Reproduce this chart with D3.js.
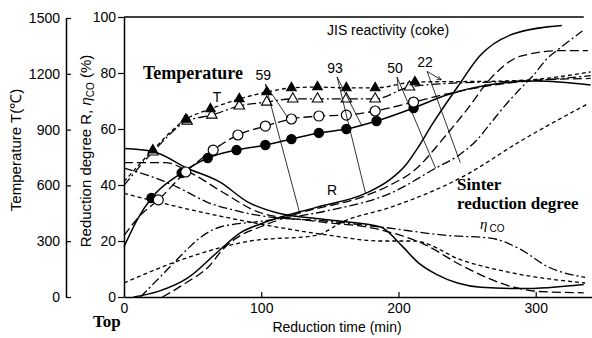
<!DOCTYPE html>
<html>
<head>
<meta charset="utf-8">
<script src="https://cdn.jsdelivr.net/npm/d3@7"></script>
<style>
  html, body { margin: 0; padding: 0; background: #fff; }
  svg { display: block; }
  .sans { font-family: "Liberation Sans", Arial, sans-serif; }
  .serif { font-family: "Liberation Serif", "Times New Roman", serif; }
</style>
</head>
<body>
<svg id="chart" width="592" height="338"></svg>
<script>
// ---- Data: reduction time (min) against temperature (°C), reduction degree R (%) and CO utilisation (%) ----
// Series are keyed by JIS coke reactivity: 93, 59, 50, 22.

// Temperature T: points before the first marker, marked points, points after the last marker
const temp93Head = [[0, 270], [10, 420]];
const temp93Marks = [[20, 532], [42, 667], [61, 747], [82, 790], [103, 817], [122, 849], [142, 882], [162, 903], [184, 946], [211, 1016]];
const temp93Tail = [[235, 1086], [265, 1140], [300, 1161], [340, 1140]];

const temp59Head = [[0, 330], [12, 440]];
const temp59Marks = [[25, 522], [45, 672], [65, 790], [83, 871], [103, 919], [122, 957], [142, 973], [162, 978], [183, 1000], [211, 1048]];
const temp59Tail = [[240, 1100], [270, 1140], [300, 1165], [340, 1175]];

const temp50Head = [[0, 600]];
const temp50Marks = [[21, 780], [46, 946], [64, 978], [84, 1027], [104, 1048], [123, 1065], [141, 1065], [162, 1065], [183, 1065], [208, 1129]];
const temp50Tail = [[240, 1150], [270, 1156], [300, 1165], [340, 1190]];

const temp22Head = [[0, 620]];
const temp22Marks = [[21, 790], [45, 955], [63, 1011], [84, 1065], [104, 1102], [122, 1124], [141, 1129], [162, 1124], [183, 1124], [212, 1156]];
const temp22Tail = [[240, 1158], [270, 1160], [300, 1170], [340, 1210]];

// Sinter reduction degree R (%)
const red93 = [[7, 0], [25, 2], [47, 7], [68, 16], [85, 23], [99, 26], [140, 32], [176, 37], [194, 42], [205, 47], [215, 54], [225, 62], [243, 75], [259, 86], [284, 94], [319, 97]];
const red59 = [[28, 0], [45, 5], [62, 11], [72, 17], [85, 22], [99, 25], [128, 30], [175, 36], [194, 40], [211, 45], [235, 58], [250, 67], [267, 78], [289, 86], [318, 88], [338, 88]];
const red50 = [[12, 0], [30, 9], [46, 17], [55, 21], [70, 25], [99, 27], [150, 31], [194, 37], [227, 46], [245, 51], [257, 56], [267, 62], [277, 68], [288, 74], [298, 79], [308, 85], [318, 89], [334, 95]];
const red22 = [[0, 5], [46, 14], [92, 20], [140, 22], [160, 27], [194, 32], [247, 43], [290, 56], [338, 69]];

// CO utilisation eta_CO (%)
const eta93 = [[0, 53], [21, 52], [46, 46], [70, 41], [90, 34], [112, 30], [140, 28], [160, 27], [187, 25], [203, 18], [215, 12], [228, 8], [243, 5], [260, 3.5], [290, 3], [335, 4.5]];
const eta59 = [[0, 48], [30, 48], [50, 44], [70, 38], [100, 30], [140, 27], [187, 24], [218, 19], [247, 11], [284, 3.5], [301, 2], [335, 1.5]];
const eta50 = [[0, 46], [20, 43], [40, 39], [60, 34], [80, 31], [100, 29], [150, 27], [187, 25], [235, 22], [267, 21], [289, 17], [308, 11], [336, 7]];
const eta22 = [[0, 37], [50, 31], [100, 26], [150, 22], [187, 20], [211, 20], [247, 13], [284, 8.5], [336, 5]];

// Axis ticks
const timeTicks = [0, 100, 200, 300];
const reductionTicks = [0, 20, 40, 60, 80, 100];
const temperatureTicks = [0, 300, 600, 900, 1200, 1500];

// Reactivity labels: label anchor [time, R%], pointer to temperature curve [time, °C], pointer to R curve [time, R%]
const reactivityNames = ["59", "93", "50", "22"];
const labelAnchors = [[101.5, 77.5], [153.8, 80], [197.5, 80], [219.4, 82]];
const tempPointerEnds = [[119.5, 962], [173, 925], [200, 1108], [231, 1168]];
const redPointerEnds = [[128, 30], [176, 37], [227, 46], [245, 48]];

// ---- Scales ----
const x = d3.scaleLinear().domain([0, 341]).range([124, 592]);
const yR = d3.scaleLinear().domain([0, 100]).range([297, 17]);
const yT = d3.scaleLinear().domain([0, 1500]).range([297, 18]);

const svg = d3.select("#chart");
const fmt = d3.format("d");

// ---- Axes ----
const xAxis = d3.axisBottom(x).tickValues(timeTicks).tickFormat(fmt).tickSizeInner(-5).tickSizeOuter(0).tickPadding(6);
const gx = svg.append("g").attr("transform", "translate(0,297)").call(xAxis);

const rAxis = d3.axisLeft(yR).tickValues(reductionTicks).tickFormat(fmt).tickSizeInner(6).tickSizeOuter(0).tickPadding(2);
const gr = svg.append("g").attr("transform", "translate(124,0)").call(rAxis);

const tAxis = d3.axisLeft(yT).tickValues(temperatureTicks).tickFormat(fmt).tickSizeInner(-5).tickSizeOuter(0).tickPadding(6);
const gt = svg.append("g").attr("transform", "translate(66,0)").call(tAxis);

[gx, gr, gt].forEach(g => {
  g.selectAll("path.domain").attr("stroke", "#000").attr("stroke-width", 1.5);
  g.selectAll(".tick line").attr("stroke", "#000").attr("stroke-width", 1.2);
  g.selectAll(".tick text").attr("class", "sans").attr("font-size", 14).attr("fill", "#000");
});

// top frame line of the plot area
svg.append("line")
  .attr("x1", x(0)).attr("x2", x(335))
  .attr("y1", yR(100)).attr("y2", yR(100))
  .attr("stroke", "#000").attr("stroke-width", 1.5);

// ---- Curves ----
const styles = {
  "93": { dash: null, width: 1.5 },
  "59": { dash: "9,4", width: 1.3 },
  "50": { dash: "9,3,2,3", width: 1.3 },
  "22": { dash: "4,3", width: 1.3 }
};

const lineT = d3.line().x(d => x(d[0])).y(d => yT(d[1])).curve(d3.curveMonotoneX);
const lineR = d3.line().x(d => x(d[0])).y(d => yR(d[1])).curve(d3.curveMonotoneX);

const tempSeries = [
  { key: "93", pts: temp93Head.concat(temp93Marks, temp93Tail), marks: temp93Marks, marker: "circle", filled: true },
  { key: "59", pts: temp59Head.concat(temp59Marks, temp59Tail), marks: temp59Marks, marker: "circle", filled: false },
  { key: "50", pts: temp50Head.concat(temp50Marks, temp50Tail), marks: temp50Marks, marker: "triangle", filled: false },
  { key: "22", pts: temp22Head.concat(temp22Marks, temp22Tail), marks: temp22Marks, marker: "triangle", filled: true }
];
const redSeries = [["93", red93], ["59", red59], ["50", red50], ["22", red22]];
const etaSeries = [["93", eta93], ["59", eta59], ["50", eta50], ["22", eta22]];

const curves = svg.append("g").attr("fill", "none").attr("stroke", "#000");

function drawCurve(gen, pts, key) {
  const s = styles[key];
  curves.append("path")
    .attr("d", gen(pts))
    .attr("stroke-width", s.width)
    .attr("stroke-dasharray", s.dash);
}

redSeries.forEach(([k, pts]) => drawCurve(lineR, pts, k));
etaSeries.forEach(([k, pts]) => drawCurve(lineR, pts, k));
tempSeries.forEach(s => drawCurve(lineT, s.pts, s.key));

// markers on temperature curves
const marks = svg.append("g");
tempSeries.forEach(s => {
  const g = marks.append("g");
  if (s.marker === "circle") {
    g.selectAll("circle").data(s.marks).join("circle")
      .attr("cx", d => x(d[0])).attr("cy", d => yT(d[1]))
      .attr("r", s.filled ? 4.6 : 5)
      .attr("fill", s.filled ? "#000" : "#fff")
      .attr("stroke", "#000").attr("stroke-width", 1.2);
  } else {
    const sym = d3.symbol().type(d3.symbolTriangle).size(s.filled ? 40 : 48);
    g.selectAll("path").data(s.marks).join("path")
      .attr("d", sym)
      .attr("transform", d => `translate(${x(d[0])},${yT(d[1])})`)
      .attr("fill", s.filled ? "#000" : "#fff")
      .attr("stroke", "#000").attr("stroke-width", 1.1);
  }
});

// ---- Reactivity labels with pointer lines ----
const ann = svg.append("g");
svg.append("defs").append("marker")
  .attr("id", "arrow").attr("viewBox", "0 0 10 10").attr("refX", 9).attr("refY", 5)
  .attr("markerWidth", 6).attr("markerHeight", 6).attr("orient", "auto")
  .append("path").attr("d", "M0,1 L10,5 L0,9").attr("fill", "none").attr("stroke", "#000").attr("stroke-width", 1.4);

reactivityNames.forEach((name, i) => {
  const [lt, lr] = labelAnchors[i];
  const lx = x(lt), ly = yR(lr);
  ann.append("text").attr("class", "sans")
    .attr("x", lx).attr("y", ly)
    .attr("text-anchor", "middle").attr("font-size", 14)
    .text(name);
  const sx = lx + 2, sy = ly + 4;
  ann.append("line")
    .attr("x1", sx).attr("y1", sy)
    .attr("x2", x(tempPointerEnds[i][0])).attr("y2", yT(tempPointerEnds[i][1]))
    .attr("stroke", "#000").attr("stroke-width", 0.8)
    .attr("marker-end", name === "22" ? "url(#arrow)" : null);
  ann.append("line")
    .attr("x1", sx).attr("y1", sy)
    .attr("x2", x(redPointerEnds[i][0])).attr("y2", yR(redPointerEnds[i][1]))
    .attr("stroke", "#000").attr("stroke-width", 0.8);
});

// ---- Text labels ----
svg.append("text").attr("class", "sans").attr("x", 327).attr("y", 35)
  .attr("font-size", 14).text("JIS reactivity (coke)");

svg.append("text").attr("class", "serif").attr("x", 143).attr("y", 79)
  .attr("font-size", 18).attr("font-weight", "bold").text("Temperature");

svg.append("text").attr("class", "sans").attr("x", 217).attr("y", 102)
  .attr("text-anchor", "middle").attr("font-size", 14).text("T");

svg.append("text").attr("class", "sans").attr("x", 332).attr("y", 195)
  .attr("text-anchor", "middle").attr("font-size", 14).text("R");

const sinter = svg.append("text").attr("class", "serif").attr("font-size", 17).attr("font-weight", "bold");
sinter.append("tspan").attr("x", 457).attr("y", 190).text("Sinter");
sinter.append("tspan").attr("x", 457).attr("y", 209).text("reduction degree");

const etaLabel = svg.append("text").attr("x", 480).attr("y", 229);
etaLabel.append("tspan").attr("class", "serif").attr("font-style", "italic").attr("font-size", 15).text("η");
etaLabel.append("tspan").attr("class", "sans").attr("font-size", 10).attr("dx", 2).attr("dy", 3).text("CO");

svg.append("text").attr("class", "serif").attr("x", 93).attr("y", 327)
  .attr("font-size", 17).attr("font-weight", "bold").text("Top");

svg.append("text").attr("class", "sans").attr("x", 337).attr("y", 332)
  .attr("text-anchor", "middle").attr("font-size", 14).text("Reduction time (min)");

svg.append("text").attr("class", "sans")
  .attr("transform", "translate(21,150) rotate(-90)")
  .attr("text-anchor", "middle").attr("font-size", 15).text("Temperature T(℃)");

const rTitle = svg.append("text").attr("class", "sans")
  .attr("transform", "translate(91,151) rotate(-90)")
  .attr("text-anchor", "middle").attr("font-size", 15);
rTitle.append("tspan").text("Reduction degree R, ");
rTitle.append("tspan").attr("font-style", "italic").text("η");
rTitle.append("tspan").attr("font-size", 10).attr("dy", 3).text("CO");
rTitle.append("tspan").attr("dy", -3).text(" (%)");
</script>
</body>
</html>
